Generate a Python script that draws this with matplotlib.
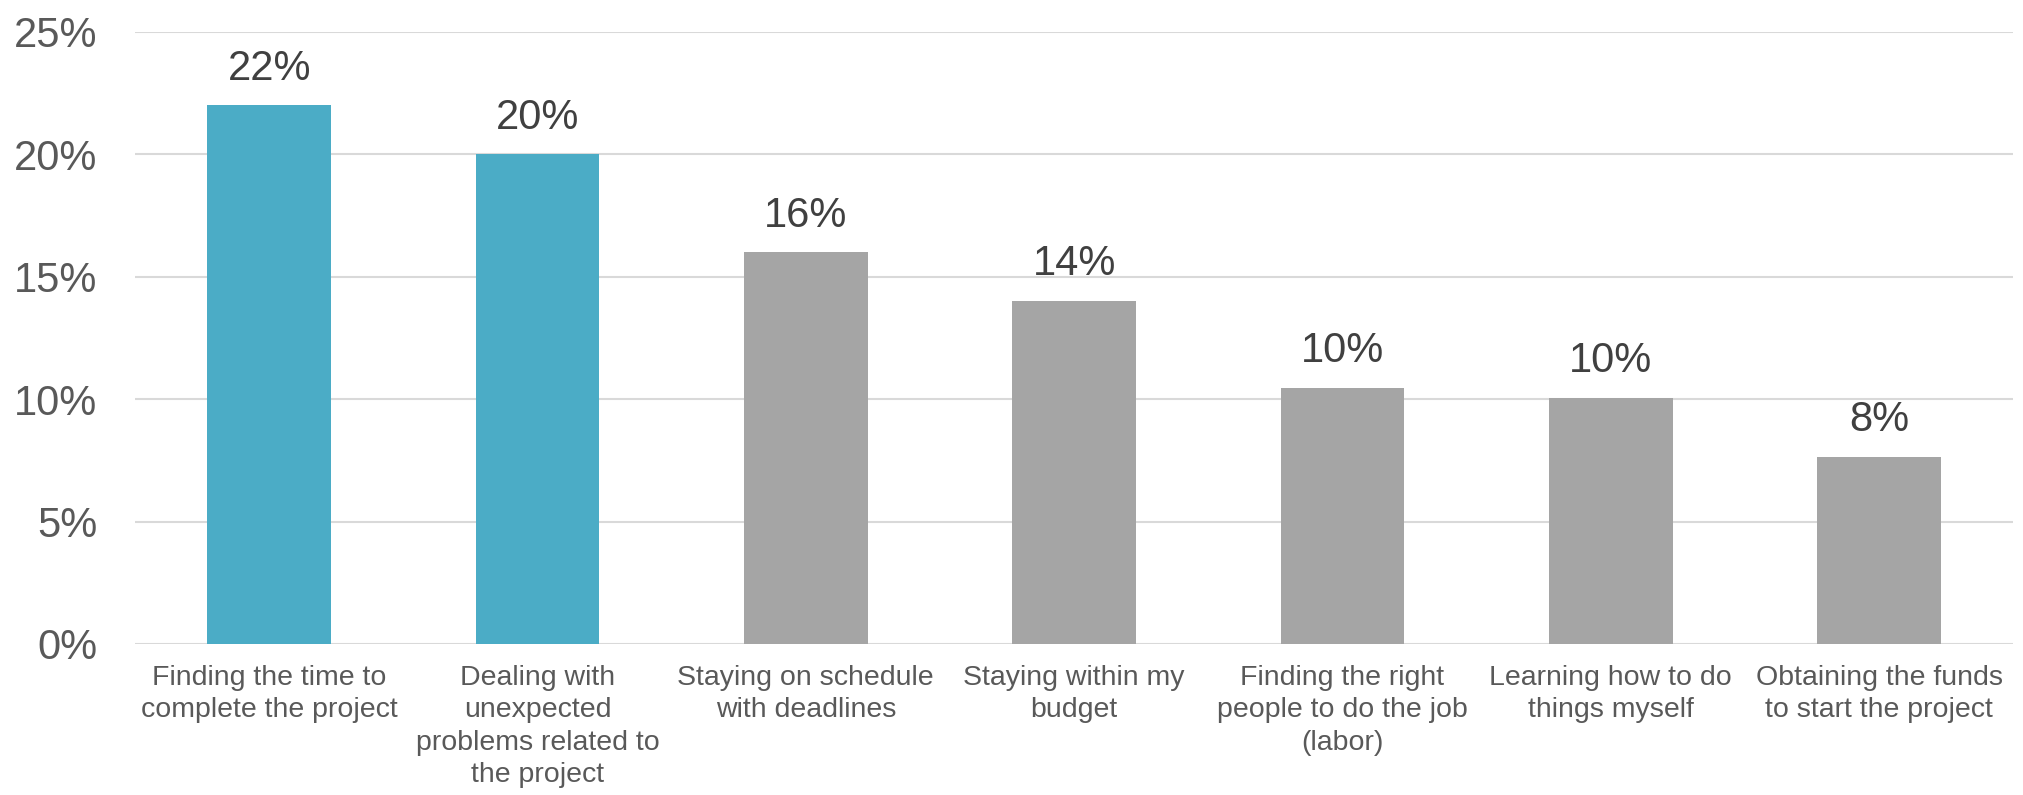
import numpy as np
import matplotlib.pyplot as plt
from matplotlib.ticker import FuncFormatter

# survey answers, share of respondents (%)
categories = [
    "Finding the time to\ncomplete the project",
    "Dealing with\nunexpected\nproblems related to\nthe project",
    "Staying on schedule\nwith deadlines",
    "Staying within my\nbudget",
    "Finding the right\npeople to do the job\n(labor)",
    "Learning how to do\nthings myself",
    "Obtaining the funds\nto start the project",
]
values = [22.0, 20.0, 16.0, 14.0, 10.45, 10.05, 7.65]
highlight = [True, True, False, False, False, False, False]

teal = "#4BACC6"
gray = "#A5A5A5"

plt.rcParams['font.family'] = ['Liberation Sans', 'DejaVu Sans']

fig = plt.figure(figsize=(20.24, 7.95), dpi=100)
ax = fig.add_axes([0.0667, 0.19, 0.928, 0.77])

x = np.arange(len(categories))
colors = [teal if h else gray for h in highlight]
bars = ax.bar(x, values, width=0.46, color=colors, zorder=3)

for b, v in zip(bars, values):
    ax.annotate("%d%%" % round(v), (b.get_x() + b.get_width() / 2, v),
                xytext=(0, 12), textcoords="offset points",
                ha="center", va="bottom", fontsize=30, color="#404040")

ax.set_xlim(-0.5, len(categories) - 0.5)
ax.set_ylim(0, 25)
ax.set_yticks(np.arange(0, 26, 5))
ax.yaxis.set_major_formatter(FuncFormatter(lambda v, p: "%d%%" % v))
ax.set_xticks(x)
ax.set_xticklabels(categories, fontsize=20.5, color="#595959", linespacing=1.32)

ax.tick_params(axis="y", length=0, pad=27, labelsize=30, labelcolor="#595959")
ax.tick_params(axis="x", length=0, pad=15)
ax.grid(axis="y", color="#D9D9D9", linewidth=1.5, zorder=0)
for s in ax.spines.values():
    s.set_visible(False)

fig.set_facecolor("white")
fig.savefig("out.png", dpi=100, facecolor=fig.get_facecolor())
